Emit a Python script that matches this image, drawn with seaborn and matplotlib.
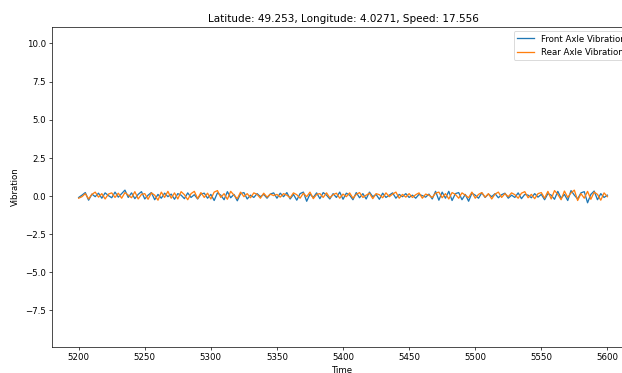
import numpy as np
import pandas as pd
import seaborn as sns
import matplotlib
matplotlib.use("Agg")
import matplotlib.pyplot as plt

# valeurs, un point toutes les 2.5 unites de temps
debut = 5200
pas = 2.5

avant = [
    -0.10, 0.05, 0.22, -0.28, 0.12, -0.05, 0.18, -0.15, 0.20, 0.02, -0.12, 0.25, -0.08, 0.15, 0.38, -0.10, 0.20, -0.18, 0.10, 0.28,
    -0.20, 0.05, 0.22, -0.25, 0.10, -0.15, 0.18, -0.05, 0.12, -0.22, 0.15, 0.05, -0.18, 0.20, -0.10, 0.08, -0.20, 0.12, 0.18, -0.15,
    0.10, -0.30, 0.20, 0.05, -0.25, 0.28, -0.12, 0.10, -0.32, 0.15, 0.22, -0.20, 0.05, -0.10, 0.15, -0.05, 0.10, -0.15, 0.12, 0.20,
    -0.15, 0.18, -0.05, 0.22, -0.20, 0.10, -0.28, 0.15, 0.25, -0.35, 0.12, -0.10, 0.20, -0.18, 0.22, 0.05, -0.20, 0.15, -0.10, 0.25,
    -0.22, 0.18, 0.05, -0.25, 0.22, -0.12, 0.15, -0.20, 0.25, -0.05, 0.10, -0.22, 0.18, -0.10, 0.05, 0.20, -0.15, 0.10, -0.05, 0.15,
    -0.10, 0.05, -0.15, 0.10, 0.02, -0.08, 0.12, -0.20, 0.30, -0.28, 0.25, -0.15, 0.30, -0.30, 0.15, 0.22, -0.25, 0.10, -0.35, 0.18,
    0.05, -0.15, 0.20, -0.10, 0.12, -0.05, 0.15, -0.12, 0.08, 0.18, -0.15, 0.05, -0.10, 0.20, -0.18, 0.10, 0.05, -0.12, 0.15, -0.08,
    0.10, -0.25, 0.15, 0.05, -0.22, 0.30, -0.15, 0.10, -0.30, 0.35, 0.05, -0.20, 0.20, 0.28, -0.45, 0.10, 0.32, -0.25, 0.15, -0.10,
    0.05,
]

arriere = [
    -0.15, -0.05, 0.15, -0.20, 0.10, 0.25, -0.08, 0.15, -0.20, 0.12, 0.20, -0.10, 0.18, -0.15, 0.22, 0.05, -0.12, 0.28, -0.20, 0.10,
    0.15, -0.22, 0.20, 0.05, -0.28, 0.25, -0.10, 0.30, -0.15, 0.20, -0.20, 0.28, 0.08, -0.25, 0.15, 0.30, -0.18, 0.22, -0.10, 0.18,
    -0.20, 0.25, 0.35, -0.10, 0.15, -0.22, 0.30, 0.05, -0.18, 0.25, -0.05, 0.15, -0.12, 0.20, 0.10, -0.15, 0.18, -0.08, 0.12, 0.02,
    0.10, -0.08, 0.15, 0.05, -0.12, 0.20, 0.08, -0.15, 0.18, -0.05, 0.25, -0.18, 0.10, 0.15, -0.10, 0.20, -0.12, 0.08, 0.18, -0.15,
    0.12, -0.05, 0.20, -0.15, 0.10, 0.22, -0.10, 0.05, 0.18, -0.18, 0.15, 0.08, -0.12, 0.20, -0.05, 0.12, 0.25, -0.15, 0.10, -0.08,
    0.15, -0.10, 0.08, 0.20, -0.15, 0.12, 0.05, -0.10, 0.18, 0.25, -0.12, 0.15, -0.20, 0.22, 0.10, -0.15, 0.20, 0.05, -0.12, 0.25,
    -0.15, 0.10, 0.22, -0.08, 0.15, -0.20, 0.12, 0.25, -0.10, 0.15, -0.05, 0.20, 0.08, -0.15, 0.18, 0.28, -0.12, 0.10, -0.18, 0.15,
    0.22, -0.15, 0.30, -0.20, 0.35, 0.10, -0.25, 0.32, -0.10, 0.20, 0.38, -0.30, 0.15, -0.15, 0.30, -0.22, 0.25, 0.10, -0.28, 0.20,
    -0.05,
]

temps = debut + pas * np.arange(len(avant))
donnees = pd.DataFrame({'Time': temps, 'Front': avant, 'Rear': arriere})

fig = plt.figure(figsize=(10, 6), dpi=62.2)
# le bord droit de l'image d'origine est coupe, l'axe depasse donc a droite
ax = fig.add_axes([0.084, 0.070, 0.935, 0.858])

sns.lineplot(data=donnees, x='Time', y='Front', ax=ax, label='Front Axle Vibration', color='#1f77b4')
sns.lineplot(data=donnees, x='Time', y='Rear', ax=ax, label='Rear Axle Vibration', color='#ff7f0e')

ax.set_ylim(-9.9, 11.1)
ax.set_title('Latitude: 49.253, Longitude: 4.0271, Speed: 17.556')
ax.set_xlabel('Time')
ax.set_ylabel('Vibration', labelpad=6)
ax.legend(loc='upper right')

fig.savefig('out.png', dpi=62.2)
